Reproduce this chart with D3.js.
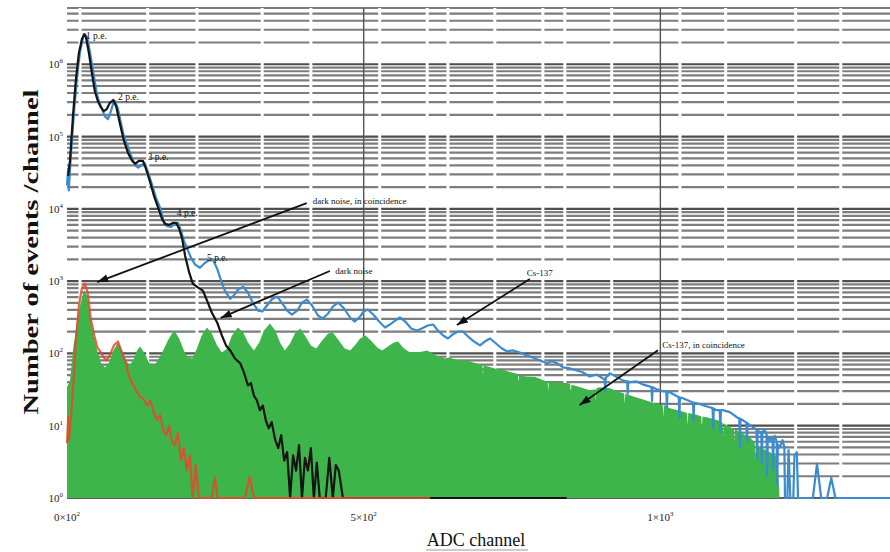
<!DOCTYPE html>
<html>
<head>
<meta charset="utf-8">
<script src="https://cdn.jsdelivr.net/npm/d3@7"></script>
<style>
  body { margin: 0; background: #fff; }
  text { font-family: "Liberation Serif", "Times New Roman", serif; }
</style>
</head>
<body>
<div id="canvas"></div>
<script>
// spectra: [ADC channel, events per channel]
const cs137 = [[0,2.1e4],[2,3.6e4],[3,1.8e4],[7,6.3e4],[12,2.25e5],[17,6.8e5],[22,1.5e6],[27,2.36e6],[30,2.6e6],[34,2.36e6],[39,1.42e6],[44,8.0e5],[49,4.5e5],[52,3.4e5],[59,2.4e5],[64,1.9e5],[69,1.74e5],[74,2.25e5],[78,2.9e5],[81,3.1e5],[86,2.4e5],[91,1.53e5],[96,1.0e5],[101,7.9e4],[108,5.4e4],[115,4.0e4],[120,3.7e4],[125,4.0e4],[131,4.3e4],[136,3.3e4],[143,2.2e4],[150,1.42e4],[157,1.03e4],[163,6.8e3],[168,5.8e3],[175,5.6e3],[182,6.2e3],[187,6.4e3],[192,5.0e3],[197,3.6e3],[202,2.9e3],[209,2.1e3],[216,1.69e3],[224,1.53e3],[231,1.74e3],[238,1.92e3],[246,1.97e3],[253,1.49e3],[258,1.12e3],[266,740],[275,570],[281,630],[288,760],[297,840],[305,690],[313,505],[322,390],[329,380],[337,460],[345,556],[354,610],[362,505],[371,390],[379,345],[388,390],[396,505],[404,556],[413,460],[423,334],[431,304],[440,356],[448,445],[457,505],[467,418],[477,314],[485,276],[494,324],[500,380],[507,405],[516,345],[526,276],[536,228],[544,251],[553,285],[561,314],[570,276],[580,221],[590,208],[598,221],[608,243],[617,251],[625,208],[634,177],[642,161],[650,183],[659,201],[667,201],[676,171],[686,146],[696,129],[704,146],[713,161],[723,137],[733,117],[741,107],[751,110],[763,103],[775,94],[785,88],[797,80],[809,73],[817,78],[826,73],[836,64],[848,62],[859,58],[869,55],[881,48],[893,51],[903,45],[906,44],[907,30],[908,46],[915,53],[927,47],[937,42],[944,41],[945,28],[946,41],[949,40],[960,41],[971,37],[982,35],[985,34],[986,22],[987,34],[994,32],[1004,30],[1010,29.5],[1011,18],[1012,29.4],[1016,29],[1028,25.5],[1031,25],[1032,13],[1033,24.5],[1038,24],[1050,21.8],[1055,21],[1056,12],[1057,20.8],[1062,20.4],[1072,19.2],[1083,18],[1088,17.5],[1089,9],[1090,17.2],[1095,16.4],[1100,16.4],[1101,8],[1102,16.4],[1105,16.4],[1117,15.4],[1129,13.1],[1133,12.6],[1134,5],[1135,12.4],[1139,11.9],[1145,11],[1146,6],[1147,10.8],[1151,10.2],[1159,9.2],[1162,8.8],[1163,3.5],[1164,8.6],[1168,8.1],[1170,8.2],[1171,3],[1172,8.3],[1176,8.7],[1179,7.5],[1180,2],[1181,7],[1185,6.3],[1189,6.8],[1190,2.5],[1191,7],[1193,7.2],[1196,6],[1197,1.5],[1198,5.5],[1201,5.0],[1206,6.3],[1209,5],[1210,1],[1214,1],[1216,4.6],[1219,1],[1224,1],[1226,3.9],[1230,4.3],[1232,1],[1257,1],[1264,3.0],[1271,1],[1281,1],[1288,1.9],[1295,1],[1387,1]];

const cs137Coinc = [[0,34],[5,42],[10,110],[17,285],[22,460],[27,670],[30,740],[34,630],[39,334],[44,189],[51,110],[57,75],[64,64],[71,75],[78,110],[86,142],[93,110],[99,80],[106,68],[113,85],[118,110],[123,125],[130,103],[138,75],[147,68],[153,80],[162,110],[170,151],[177,189],[182,201],[189,161],[197,110],[204,88],[211,85],[219,117],[227,177],[236,228],[244,189],[253,129],[261,103],[270,117],[278,177],[288,228],[297,195],[305,142],[315,110],[324,142],[332,208],[342,259],[351,208],[359,142],[367,110],[376,137],[384,189],[393,221],[401,177],[411,129],[420,117],[430,151],[440,189],[448,195],[458,151],[468,117],[477,110],[485,129],[494,161],[503,177],[512,151],[523,121],[531,110],[541,125],[551,142],[558,146],[566,121],[578,103],[591,103],[607,110],[622,94],[637,85],[645,88],[659,80],[674,80],[689,73],[700,69],[701,50],[702,69],[704,68],[721,62],[738,58],[755,53],[760,52],[761,38],[762,51],[772,48],[789,47],[805,42],[810,41],[811,30],[812,41],[822,40],[842,39],[848,38],[849,27],[850,37],[861,35],[881,31],[890,32],[891,22],[892,33],[898,34],[915,33],[932,29],[939,28],[940,20],[941,28],[953,25.5],[975,22.5],[995,19.8],[1004,19.5],[1005,13],[1006,19.3],[1016,17.4],[1036,15.8],[1045,15],[1046,10],[1047,15],[1058,14.4],[1069,13.5],[1070,9],[1071,13.4],[1078,13.1],[1097,11.9],[1105,11],[1106,7],[1107,10.8],[1117,9.5],[1124,9.2],[1125,6],[1126,9],[1134,8.1],[1151,6.9],[1159,5.8],[1160,3.5],[1161,5.6],[1168,5.0],[1185,4.3],[1197,3.7],[1201,1]];

const darkNoise = [[2,2.85e4],[5,4.6e4],[10,1.9e5],[15,6.2e5],[20,1.42e6],[25,2.2e6],[29,2.6e6],[32,2.36e6],[37,1.42e6],[42,7.5e5],[47,4.2e5],[52,3.1e5],[57,2.55e5],[62,2.25e5],[67,2.4e5],[72,2.9e5],[78,3.2e5],[83,2.6e5],[89,1.53e5],[96,8.7e4],[103,5.9e4],[110,4.6e4],[115,4.2e4],[121,4.6e4],[128,4.6e4],[133,3.6e4],[140,2.36e4],[147,1.47e4],[153,1.07e4],[160,7.3e3],[165,6.2e3],[172,6.0e3],[179,6.4e3],[184,6.4e3],[189,5.3e3],[194,3.9e3],[199,2.25e3],[206,1.31e3],[212,925],[221,813],[229,740],[236,538],[244,368],[253,268],[261,177],[268,129],[275,110],[283,85],[292,73],[298,55],[305,36],[310,39],[315,26],[320,22.5],[325,16.4],[330,19],[335,11.9],[340,9.2],[345,11.2],[351,6.3],[356,4.9],[361,7.4],[366,3.3],[371,4.3],[376,1],[381,3.9],[386,2.4],[391,5.4],[396,1],[401,3.6],[406,2.4],[411,4.9],[416,1],[421,3.1],[426,1],[436,1],[442,3.6],[448,1],[453,2.85],[458,2.4],[465,1],[842,1]];

const darkNoiseCoinc = [[0,5.7],[2,13],[3,6.3],[7,14],[10,31],[15,151],[20,460],[25,790],[30,925],[35,690],[40,304],[46,177],[51,121],[57,103],[62,88],[67,80],[72,94],[79,129],[86,146],[91,110],[98,80],[104,50],[110,39],[116,31],[123,25],[128,24],[135,19],[140,22],[147,15],[152,12],[157,14],[162,8.7],[167,7.4],[172,10],[177,5.9],[182,5.4],[187,7.9],[192,3.3],[197,4.9],[202,2.4],[207,3.9],[212,1],[217,2.85],[222,1],[244,1],[249,1.95],[254,1],[300,1],[308,1.95],[315,1],[612,1]];

const yTickPowers = [0, 1, 2, 3, 4, 5, 6];
const xTicks = [0, 500, 1000];
const xTickLabels = [["0×10", "2"], ["5×10", "2"], ["1×10", "3"]];
// channels where the horizontal grid is broken by white minor lines
const gridBreaks = [22, 136, 219, 329, 411, 527, 607, 642, 721, 802, 839, 918, 1033, 1110, 1228, 1304];

const peakLabels = [["1 p.e.", 32, 2.2e6], ["2 p.e.", 86, 3.2e5], ["3 p.e.", 136, 4.7e4], ["4 p.e.", 185, 7.9e3], ["5 p.e.", 236, 1.9e3]];
const callouts = [
  { text: "dark noise, in coincidence", at: [414, 1.16e4], from: [404, 1.2e4], to: [51, 970] },
  { text: "dark noise", at: [452, 1.25e3], from: [443, 1.38e3], to: [259, 310] },
  { text: "Cs-137", at: [775, 1.18e3], from: [780, 1.07e3], to: [657, 247] },
  { text: "Cs-137, in coincidence", at: [1003, 119], from: [996, 111], to: [864, 19.3] }
];

const width = 890;
const height = 552;
const margin = { top: 8, left: 67, bottom: 54, right: 0 };
const iwidth = width - margin.left - margin.right;
const iheight = height - margin.top - margin.bottom;

const svg = d3.select("#canvas").append("svg")
  .attr("width", width)
  .attr("height", height);

const defs = svg.append("defs");
defs.append("marker")
  .attr("id", "head")
  .attr("markerUnits", "userSpaceOnUse")
  .attr("markerWidth", 12).attr("markerHeight", 10)
  .attr("refX", 11).attr("refY", 4)
  .attr("orient", "auto")
  .append("path").attr("d", "M0,0 L11,4 L0,8 Z").attr("fill", "#111");

const g = svg.append("g").attr("transform", `translate(${margin.left},${margin.top})`);

const x = d3.scaleLinear().domain([0, 1387]).range([0, iwidth]);
const y = d3.scaleLog().domain([1, 6e6]).range([iheight, 0]);

// horizontal log grid, every 1..9 x 10^n
const gridVals = [];
yTickPowers.forEach(p => {
  for (let k = 1; k <= 9; k++) {
    const v = k * Math.pow(10, p);
    if (v <= 6e6) gridVals.push({ v: v, major: k === 1 });
  }
});
g.append("g").selectAll("line").data(gridVals).enter().append("line")
  .attr("x1", 0).attr("x2", iwidth)
  .attr("y1", d => y(d.v)).attr("y2", d => y(d.v))
  .attr("stroke", d => d.major ? "#4e4e4e" : "#7d7d7d")
  .attr("stroke-width", 2.2);

g.append("g").selectAll("line").data(gridBreaks).enter().append("line")
  .attr("x1", d => x(d)).attr("x2", d => x(d))
  .attr("y1", 0).attr("y2", iheight)
  .attr("stroke", "#fff")
  .attr("stroke-width", 3);

g.append("g").selectAll("line").data(xTicks.slice(1)).enter().append("line")
  .attr("x1", d => x(d)).attr("x2", d => x(d))
  .attr("y1", 0).attr("y2", iheight)
  .attr("stroke", "#555")
  .attr("stroke-width", 1.4);

g.append("line")
  .attr("x1", 0).attr("x2", iwidth)
  .attr("y1", iheight).attr("y2", iheight)
  .attr("stroke", "#666").attr("stroke-width", 1.5);

// spectra
const area = d3.area().x(d => x(d[0])).y0(iheight).y1(d => y(d[1]));
const line = d3.line().x(d => x(d[0])).y(d => y(d[1]));

g.append("path").datum(cs137Coinc)
  .attr("d", area)
  .attr("fill", "#3db54a");

g.append("path").datum(cs137)
  .attr("d", line)
  .attr("fill", "none").attr("stroke", "#3a8bd0").attr("stroke-width", 2.2)
  .attr("stroke-linejoin", "round");

g.append("path").datum(darkNoise)
  .attr("d", line)
  .attr("fill", "none").attr("stroke", "#141414").attr("stroke-width", 2.2)
  .attr("stroke-linejoin", "round");

g.append("path").datum(darkNoiseCoinc)
  .attr("d", line)
  .attr("fill", "none").attr("stroke", "#e9472b").attr("stroke-width", 2.2)
  .attr("stroke-opacity", 0.85)
  .attr("stroke-linejoin", "round");

// annotations
g.append("g").selectAll("text").data(peakLabels).enter().append("text")
  .attr("x", d => x(d[1])).attr("y", d => y(d[2]))
  .attr("font-size", 9.5).attr("fill", "#111")
  .text(d => d[0]);

const co = g.append("g").selectAll("g").data(callouts).enter().append("g");
co.append("line")
  .attr("x1", d => x(d.from[0])).attr("y1", d => y(d.from[1]))
  .attr("x2", d => x(d.to[0])).attr("y2", d => y(d.to[1]))
  .attr("stroke", "#111").attr("stroke-width", 1.8)
  .attr("marker-end", "url(#head)");
co.append("text")
  .attr("x", d => x(d.at[0])).attr("y", d => y(d.at[1]))
  .attr("font-size", 9).attr("fill", "#111")
  .text(d => d.text);

// tick labels
const yl = g.append("g").selectAll("text").data(yTickPowers).enter().append("text")
  .attr("x", -4).attr("y", d => y(Math.pow(10, d)) + 4)
  .attr("text-anchor", "end")
  .attr("font-size", 11).attr("fill", "#222");
yl.append("tspan").text("10");
yl.append("tspan").attr("dy", -5).attr("font-size", 7).text(d => d);

const xl = g.append("g").selectAll("text").data(xTicks).enter().append("text")
  .attr("x", (d, i) => x(d)).attr("y", iheight + 23)
  .attr("text-anchor", "middle")
  .attr("font-size", 11).attr("fill", "#222");
xl.append("tspan").text((d, i) => xTickLabels[i][0]);
xl.append("tspan").attr("dy", -5).attr("font-size", 7).text((d, i) => xTickLabels[i][1]);

// axis titles
svg.append("text")
  .attr("transform", "translate(38,252) rotate(-90)")
  .attr("text-anchor", "middle")
  .attr("font-size", 22).attr("font-weight", "bold").attr("fill", "#111")
  .attr("textLength", 325).attr("lengthAdjust", "spacingAndGlyphs")
  .text("Number of events /channel");

svg.append("text")
  .attr("x", 476).attr("y", 546)
  .attr("text-anchor", "middle")
  .attr("font-size", 18).attr("fill", "#111")
  .text("ADC channel");
svg.append("line")
  .attr("x1", 426).attr("x2", 528).attr("y1", 550).attr("y2", 550)
  .attr("stroke", "#999").attr("stroke-width", 1);
</script>
</body>
</html>
